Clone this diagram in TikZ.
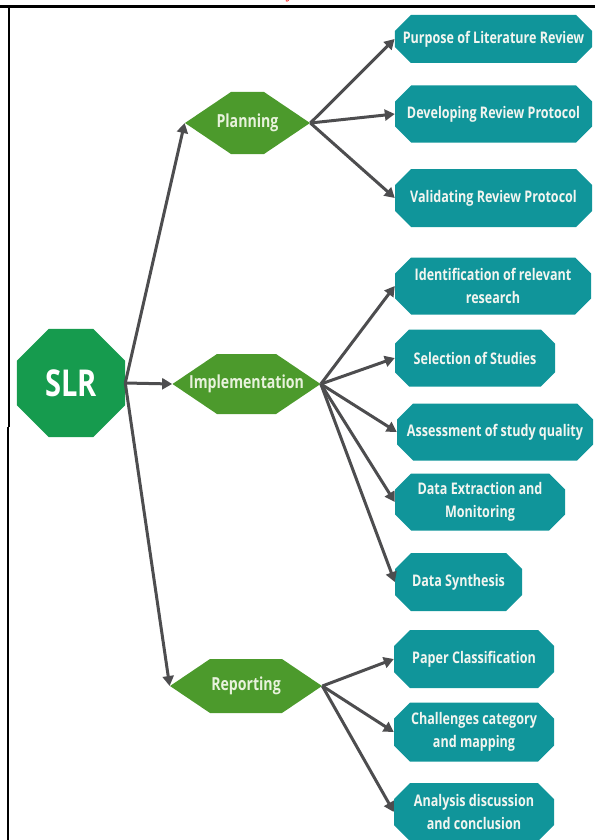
\documentclass[tikz,border=0pt]{standalone}
\usepackage{fontspec}
\setmainfont{Open Sans}[FakeStretch=0.785]
\newfontfamily\captionfont{Liberation Serif}
\usetikzlibrary{arrows.meta}
\usetikzlibrary{shapes.geometric}
\usetikzlibrary{shapes.misc}
\usetikzlibrary{shapes.symbols}
\definecolor{slrgreen}{RGB}{22,155,78}
\definecolor{phasegreen}{RGB}{76,154,44}
\definecolor{phasetext}{RGB}{232,242,220}
\definecolor{taskteal}{RGB}{16,149,154}
\definecolor{tasktext}{RGB}{242,245,240}
\definecolor{arrowgrey}{RGB}{77,77,79}
\tikzset{root/.style = {regular polygon, regular polygon sides = 8, fill = slrgreen, text = white, inner sep = 0, minimum size = 117, font = \bfseries\fontsize{37}{37}\selectfont}}
\tikzset{phase/.style = {signal, signal to = east and west, signal pointer angle = 68, fill = phasegreen, inner sep = 0}}
\tikzset{phasetitle/.style = {text = phasetext, inner sep = 0, font = \bfseries\fontsize{18}{18}\selectfont}}
\tikzset{task/.style = {chamfered rectangle, chamfered rectangle xsep = 8, chamfered rectangle ysep = 8, fill = taskteal, text = tasktext, inner sep = 0, align = center, font = \bfseries\fontsize{16}{23}\selectfont}}
\tikzset{link/.style = {draw = arrowgrey, line width = 3, -{Triangle[length = 10, width = 11]}}}

\begin{document}
\begin{tikzpicture}[x = 1pt, y = -1pt]
    \useasboundingbox (0, 0) rectangle (595, 840);
    \clip (0, 0) rectangle (595, 840);

    \node [anchor = base west, text = red, font = \captionfont\fontsize{16}{16}\selectfont] (caption) at (282, -1) {y};
    \draw [line width = 2.5] (0, 6.5) -- (595, 6.5);
    \draw [line width = 2] (9, 6.5) -- (9, 427);
    \draw [line width = 2] (7.5, 427) -- (7.5, 840);

    \node [root] (slr) at (71, 383) {SLR};

    \node [phase, minimum width = 125, minimum height = 62, label = {[phasetitle]center:Planning}] (planning) at (247.5, 123) {};
    \node [phase, minimum width = 148, minimum height = 60, label = {[phasetitle]center:Implementation}] (implementation) at (246.5, 384) {};
    \node [phase, minimum width = 152, minimum height = 54, label = {[phasetitle]center:Reporting}] (reporting) at (246, 686) {};

    \node [task, minimum width = 197, minimum height = 48] (purpose) at (493.5, 39) {Purpose of Literature Review};
    \node [task, minimum width = 197, minimum height = 57] (protocol) at (493.5, 114) {Developing Review Protocol};
    \node [task, minimum width = 197, minimum height = 58] (validating) at (493.5, 198) {Validating Review Protocol};

    \node [task, minimum width = 196, minimum height = 57] (identification) at (493, 286) {Identification of relevant\\research};
    \node [task, minimum width = 160, minimum height = 57] (selection) at (475, 358) {Selection of Studies};
    \node [task, minimum width = 196, minimum height = 57] (assessment) at (495, 432) {Assessment of study quality};
    \node [task, minimum width = 170, minimum height = 57] (extraction) at (480, 502) {Data Extraction and\\Monitoring};
    \node [task, minimum width = 127, minimum height = 58] (synthesis) at (458.5, 582) {Data Synthesis};

    \node [task, minimum width = 160, minimum height = 58] (classification) at (474, 659) {Paper Classification};
    \node [task, minimum width = 160, minimum height = 59] (challenges) at (474, 732) {Challenges category\\and mapping};
    \node [task, minimum width = 160, minimum height = 58] (analysis) at (474, 812) {Analysis discussion\\and conclusion};

    \draw [link] (slr.east) -- (planning.west);
    \draw [link] (slr.east) -- (implementation.west);
    \draw [link] (slr.east) -- (reporting.west);

    \foreach \target in {purpose, protocol, validating}
        \draw [link] (planning.east) -- (\target.west);
    \foreach \target in {identification, selection, assessment, extraction, synthesis}
        \draw [link] (implementation.east) -- (\target.west);
    \foreach \target in {classification, challenges, analysis}
        \draw [link] (reporting.east) -- (\target.west);
  \end{tikzpicture}
\end{document}
